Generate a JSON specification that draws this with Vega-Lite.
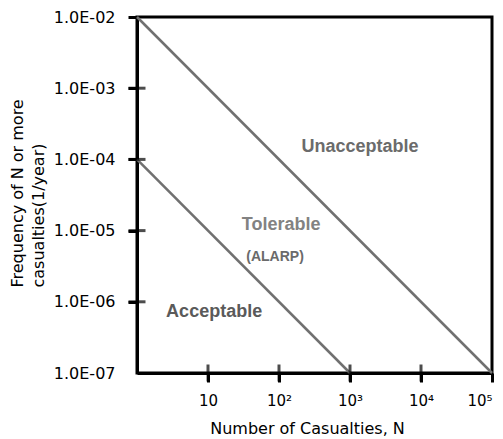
{
  "$schema": "https://vega.github.io/schema/vega-lite/v6.json",
  "autosize": {"type": "none"},
  "padding": {"left": 137, "top": 17, "right": 11, "bottom": 66},
  "width": 355,
  "height": 356,
  "background": "white",
  "config": {
    "view": {"stroke": "black", "strokeWidth": 3},
    "axis": {
      "grid": false,
      "domainColor": "black",
      "domainWidth": 3,
      "tickColor": "black",
      "tickWidth": 3,
      "tickSize": 9,
      "labelFont": "DejaVu Sans",
      "labelFontSize": 15,
      "labelColor": "black",
      "titleFont": "DejaVu Sans",
      "titleFontSize": 16,
      "titleFontWeight": "normal",
      "titleColor": "black"
    }
  },
  "datasets": {
    "lines": [
      {"line": "upper", "N": 1, "F": 0.01},
      {"line": "upper", "N": 100000, "F": 1e-7},
      {"line": "lower", "N": 1, "F": 0.0001},
      {"line": "lower", "N": 1000, "F": 1e-7}
    ],
    "yticks": [
      {"N": 1, "F": 0.001},
      {"N": 1, "F": 0.0001},
      {"N": 1, "F": 0.00001},
      {"N": 1, "F": 0.000001}
    ],
    "xticks": [
      {"N": 10, "F": 1e-7},
      {"N": 100, "F": 1e-7},
      {"N": 1000, "F": 1e-7},
      {"N": 10000, "F": 1e-7}
    ],
    "regions": [
      {"label": "Unacceptable", "N": 1383, "F": 0.000149},
      {"label": "Tolerable", "N": 107, "F": 0.000012},
      {"label": "Acceptable", "N": 12.2, "F": 0.00000072}
    ],
    "alarp": [
      {"label": "(ALARP)", "N": 88, "F": 0.00000426}
    ]
  },
  "layer": [
    {
      "data": {"name": "lines"},
      "mark": {"type": "line", "color": "#707070", "strokeWidth": 2.5},
      "encoding": {
        "x": {
          "field": "N",
          "type": "quantitative",
          "scale": {"type": "log", "domain": [1, 100000], "nice": false},
          "axis": {
            "values": [10, 100, 1000, 10000, 100000],
            "labelExpr": "'10' + ['', '', '²', '³', '⁴', '⁵'][round(log(datum.value) / LN10)]",
            "labelPadding": 11,
            "labelBaseline": "top",
            "title": "Number of Casualties, N",
            "titleX": 170,
            "titleY": 55,
            "titleBaseline": "middle",
            "titleAnchor": null,
            "titleAlign": "center"
          }
        },
        "y": {
          "field": "F",
          "type": "quantitative",
          "scale": {"type": "log", "domain": [1e-7, 0.01], "nice": false},
          "axis": {
            "values": [0.01, 0.001, 0.0001, 0.00001, 0.000001, 1e-7],
            "labelExpr": "replace(upper(format(datum.value, '.1e')), '-', '-0')",
            "labelPadding": 13,
            "labelFontSize": 16,
            "labelBaseline": "middle",
            "tickColor": {"condition": {"test": "datum.value < 2e-7", "value": "transparent"}, "value": "black"},
            "title": ["Frequency of N or more", "casualties(1/year)"],
            "titleAngle": -90,
            "titleAlign": "left",
            "titleBaseline": "middle",
            "titleLineHeight": 21,
            "titleX": -119.5,
            "titleY": 270
          }
        },
        "detail": {"field": "line", "type": "nominal"}
      }
    },
    {
      "data": {"name": "yticks"},
      "mark": {"type": "tick", "orient": "horizontal", "color": "black", "thickness": 3, "size": 17},
      "encoding": {
        "x": {"field": "N", "type": "quantitative"},
        "y": {"field": "F", "type": "quantitative"}
      }
    },
    {
      "data": {"name": "xticks"},
      "mark": {"type": "tick", "orient": "vertical", "color": "black", "thickness": 3, "size": 17},
      "encoding": {
        "x": {"field": "N", "type": "quantitative"},
        "y": {"field": "F", "type": "quantitative"}
      }
    },
    {
      "data": {"name": "regions"},
      "mark": {"type": "text", "font": "Liberation Sans", "fontWeight": "bold", "fontSize": 18, "baseline": "middle", "align": "center"},
      "encoding": {
        "x": {"field": "N", "type": "quantitative"},
        "y": {"field": "F", "type": "quantitative"},
        "text": {"field": "label"},
        "color": {
          "field": "label",
          "type": "nominal",
          "scale": {"domain": ["Unacceptable", "Tolerable", "Acceptable"], "range": ["#6b6b6b", "#828282", "#5a5a5a"]},
          "legend": null
        }
      }
    },
    {
      "data": {"name": "alarp"},
      "mark": {"type": "text", "font": "Liberation Sans", "fontWeight": "bold", "fontSize": 14, "baseline": "middle", "align": "center", "color": "#6a6a6a"},
      "encoding": {
        "x": {"field": "N", "type": "quantitative"},
        "y": {"field": "F", "type": "quantitative"},
        "text": {"field": "label"}
      }
    }
  ]
}
